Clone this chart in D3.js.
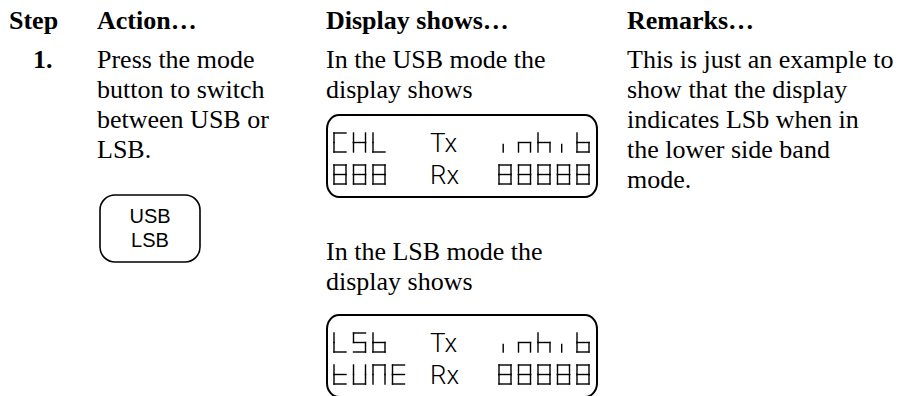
<!DOCTYPE html>
<html><head><meta charset="utf-8">
<script src="https://cdn.jsdelivr.net/npm/d3@7"></script>
<style>html,body{margin:0;padding:0;background:#fff;}svg{display:block;}</style>
</head><body>
<svg id="c" width="906" height="396"></svg>
<script>
// ---- data ----
const headers = ["Step", "Action…", "Display shows…", "Remarks…"];
const stepLabel = "1.";
const actionLines = ["Press the mode", "button to switch", "between USB or", "LSB."];
const buttonLabels = ["USB", "LSB"];
const display1Caption = ["In the USB mode the", "display shows"];
const display2Caption = ["In the LSB mode the", "display shows"];
const remarkLines = ["This is just an example to", "show that the display", "indicates LSb when in", "the lower side band", "mode."];
// LCD contents: [left segment group, centre text, right segment group]
const lcd1Row1 = ["CHL", "Tx", "inhib"];
const lcd1Row2 = ["888", "Rx", "88888"];
const lcd2Row1 = ["LSb", "Tx", "inhib"];
const lcd2Row2 = ["tUNE", "Rx", "88888"];

// seven-segment glyph definitions
const glyphs = {
  "8": "abcdefg", "C": "adef", "H": "bcefg", "L": "def", "S": "acdfg",
  "b": "cdefg", "n": "ceg", "h": "cefg", "i": "m", "t": "defg",
  "U": "bcdef", "N": "abcef", "E": "adefg"
};

const svg = d3.select("#c");
const serif = "'Liberation Serif','Times New Roman',serif";
const fs = 26, lh = 30;

// column x positions
const colX = d3.scaleOrdinal().domain(headers).range([9, 97, 326, 627]);
const lineY = d3.scaleLinear().domain([0, 1]).range([68, 68 + lh]);

// header
svg.selectAll("text.hdr").data(headers).join("text")
  .attr("class", "hdr").attr("x", d => colX(d)).attr("y", 29)
  .attr("font-family", serif).attr("font-size", fs).attr("font-weight", "bold")
  .text(d => d);

svg.append("text").attr("x", 33).attr("y", lineY(0))
  .attr("font-family", serif).attr("font-size", fs).attr("font-weight", "bold").text(stepLabel);

function lines(arr, x, y0) {
  svg.append("g").selectAll("text").data(arr).join("text")
    .attr("x", x).attr("y", (d, i) => y0 + i * lh)
    .attr("font-family", serif).attr("font-size", fs).text(d => d);
}
lines(actionLines, colX(headers[1]), lineY(0));
lines(display1Caption, colX(headers[2]), lineY(0));
lines(display2Caption, colX(headers[2]), 260);
lines(remarkLines, colX(headers[3]), lineY(0));

// button
const btn = svg.append("g");
btn.append("rect").attr("x", 100).attr("y", 195).attr("width", 100).attr("height", 67)
  .attr("rx", 15).attr("ry", 15).attr("fill", "none").attr("stroke", "#000").attr("stroke-width", 1.6);
btn.selectAll("text").data(buttonLabels).join("text")
  .attr("x", 150).attr("y", (d, i) => 223 + i * 24).attr("text-anchor", "middle")
  .attr("font-family", "'Liberation Sans',Arial,sans-serif").attr("font-size", 20).text(d => d);

// LCD drawing
function segPath(ch, x, y, w, h) {
  const s = glyphs[ch] || "";
  const m = y + h / 2, r = x + w, bt = y + h;
  const defs = {
    a: [[x, y], [r, y]], b: [[r, y], [r, m]], c: [[r, m], [r, bt]],
    d: [[x, bt], [r, bt]], e: [[x, m], [x, bt]], f: [[x, y], [x, m]],
    g: [[x, m], [r, m]], m: [[x + w * 0.35, m + 2], [x + w * 0.35, bt]]
  };
  return s.split("").map(k => defs[k]);
}
function lcd(top, row1, row2) {
  const g = svg.append("g");
  g.append("rect").attr("x", 327).attr("y", top).attr("width", 270).attr("height", 82)
    .attr("rx", 12).attr("ry", 14).attr("fill", "none").attr("stroke", "#000").attr("stroke-width", 2);
  const cellW = 12, cellH = 19;
  const leftX = d3.scaleLinear().domain([0, 1]).range([334, 353.5]);
  const rightX = d3.scaleLinear().domain([0, 1]).range([499, 518.5]);
  [row1, row2].forEach((row, ri) => {
    const y = top + 18 + ri * 32;
    const segs = [];
    row[0].split("").forEach((ch, i) => segs.push(...segPath(ch, leftX(i), y, cellW, cellH)));
    row[2].split("").forEach((ch, i) => segs.push(...segPath(ch, rightX(i), y, cellW, cellH)));
    g.append("g").selectAll("line").data(segs).join("line")
      .attr("x1", d => d[0][0]).attr("y1", d => d[0][1])
      .attr("x2", d => d[1][0]).attr("y2", d => d[1][1])
      .attr("stroke", "#000").attr("stroke-width", 1.4).attr("stroke-linecap", "square");
    g.append("text").attr("x", 430).attr("y", y + cellH)
      .attr("font-family", "Roboto,'DejaVu Sans',sans-serif").attr("font-weight", 300)
      .attr("font-size", 26).text(row[1]);
  });
}
lcd(115, lcd1Row1, lcd1Row2);
lcd(315, lcd2Row1, lcd2Row2);
</script>
</body></html>
